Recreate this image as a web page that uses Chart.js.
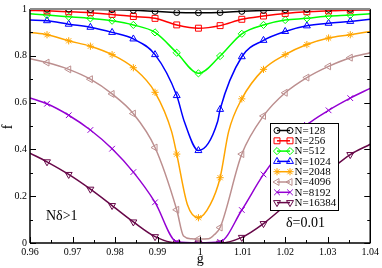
<!DOCTYPE html>
<html>
<head>
  <title>f vs g</title>
  <meta charset="utf-8" />
  <script src="https://cdn.jsdelivr.net/npm/chart.js"></script>
  <style>
    body {
      margin: 0;
      padding: 0;
      background: #fff;
    }
    #wrap {
      width: 382px;
      height: 268px;
      position: relative;
    }
  </style>
</head>
<body>
  <div id="wrap"><canvas id="chart"></canvas></div>

  <script>
    // g where the symbols sit
    const gMark = [0.9640, 0.9691, 0.9742, 0.9793, 0.9843, 0.9894, 0.9945, 0.9996,
                   1.0047, 1.0098, 1.0149, 1.0200, 1.0251, 1.0302, 1.0353];

    const f128   = [0.999, 0.999, 0.998, 0.997, 0.995, 0.990, 0.985, 0.984, 0.985, 0.990, 0.994, 0.997, 0.998, 0.999, 0.999];
    const f256   = [0.992, 0.988, 0.984, 0.977, 0.968, 0.960, 0.932, 0.918, 0.929, 0.956, 0.970, 0.981, 0.988, 0.992, 0.995];
    const f512   = [0.974, 0.967, 0.960, 0.950, 0.932, 0.900, 0.813, 0.725, 0.799, 0.894, 0.932, 0.953, 0.960, 0.970, 0.974];
    const f1024  = [0.950, 0.935, 0.922, 0.900, 0.872, 0.805, 0.630, 0.395, 0.571, 0.796, 0.866, 0.904, 0.928, 0.939, 0.947];
    const f2048  = [0.890, 0.864, 0.841, 0.805, 0.749, 0.644, 0.380, 0.108, 0.279, 0.616, 0.742, 0.805, 0.848, 0.876, 0.890];
    const f4096  = [0.771, 0.742, 0.700, 0.637, 0.553, 0.408, 0.142, 0.017, 0.066, 0.380, 0.543, 0.642, 0.707, 0.755, 0.792];
    const f8192  = [0.595, 0.546, 0.483, 0.403, 0.303, 0.174, 0.005, 0.000, 0.005, 0.141, 0.293, 0.413, 0.505, 0.567, 0.619];
    const f16384 = [0.347, 0.293, 0.230, 0.160, 0.090, 0.027, 0.000, 0.000, 0.000, 0.024, 0.083, 0.160, 0.236, 0.307, 0.378];

    // curve values at the two plot edges (g = 0.96 and 1.04)
    const gEnds = [0.96, 1.04];
    const end128   = [0.999, 0.999];
    const end256   = [0.994, 0.996];
    const end512   = [0.980, 0.980];
    const end1024  = [0.953, 0.956];
    const end2048  = [0.900, 0.904];
    const end4096  = [0.787, 0.813];
    const end8192  = [0.620, 0.661];
    const end16384 = [0.384, 0.422];

    // a few more curve points read near the dip (line only, no symbol)
    const gx1024 = [0.9963, 1.0041];
    const fx1024 = [0.518, 0.518];
    const gx2048 = [0.9933, 0.9970, 1.0024, 1.0067];
    const fx2048 = [0.476, 0.165, 0.165, 0.476];
    const gx4096 = [0.9961, 0.9980, 1.0020, 1.0033];
    const fx4096 = [0.030, 0.018, 0.018, 0.035];

    const xTickVals = [0.96, 0.97, 0.98, 0.99, 1.00, 1.01, 1.02, 1.03, 1.04];
    const xTickLabels = ['0.96', '0.97', '0.98', '0.99', '1', '1.01', '1.02', '1.03', '1.04'];
    const yTickVals = [0, 0.2, 0.4, 0.6, 0.8, 1];
    const yTickLabels = ['0', '0.2', '0.4', '0.6', '0.8', '1'];

    const serif = '"Liberation Serif", "DejaVu Serif", serif';

    const series = [
      { label: 'N=128',   color: '#000000', style: 'circle',   rot: 0,   r: 3,   f: f128,   ends: end128,   gx: [],     fx: [] },
      { label: 'N=256',   color: '#ff0000', style: 'rect',     rot: 0,   r: 4.2, f: f256,   ends: end256,   gx: [],     fx: [] },
      { label: 'N=512',   color: '#00ff00', style: 'rectRot',  rot: 0,   r: 3.6, f: f512,   ends: end512,   gx: [],     fx: [] },
      { label: 'N=1024',  color: '#0000ff', style: 'triangle', rot: 0,   r: 4,   f: f1024,  ends: end1024,  gx: gx1024, fx: fx1024 },
      { label: 'N=2048',  color: '#ffa500', style: 'star',     rot: 0,   r: 3.6, f: f2048,  ends: end2048,  gx: gx2048, fx: fx2048 },
      { label: 'N=4096',  color: '#bc8f8f', style: 'triangle', rot: -90, r: 4,   f: f4096,  ends: end4096,  gx: gx4096, fx: fx4096 },
      { label: 'N=8192',  color: '#9400d3', style: 'crossRot', rot: 0,   r: 4,   f: f8192,  ends: end8192,  gx: [],     fx: [] },
      { label: 'N=16384', color: '#670748', style: 'triangle', rot: 180, r: 4,   f: f16384, ends: end16384, gx: [],     fx: [] }
    ];

    const datasets = [];
    series.forEach(s => {
      let pts = gMark.map((g, i) => ({ x: g, y: s.f[i] }));
      pts = pts.concat(gEnds.map((g, i) => ({ x: g, y: s.ends[i] })));
      pts = pts.concat(s.gx.map((g, i) => ({ x: g, y: s.fx[i] })));
      pts.sort((a, b) => a.x - b.x);
      datasets.push({
        data: pts,
        borderColor: s.color,
        borderWidth: 1.5,
        pointRadius: 0,
        cubicInterpolationMode: 'monotone',
        fill: false
      });
      datasets.push({
        data: gMark.map((g, i) => ({ x: g, y: s.f[i] })),
        showLine: false,
        pointStyle: s.style,
        rotation: s.rot,
        pointRadius: s.r,
        pointBorderColor: s.color,
        pointBackgroundColor: 'rgba(0,0,0,0)',
        pointBorderWidth: 1
      });
    });

    function seg(ctx, x1, y1, x2, y2) {
      ctx.beginPath();
      ctx.moveTo(x1, y1);
      ctx.lineTo(x2, y2);
      ctx.stroke();
    }

    const decor = {
      id: 'decor',
      afterDatasetsDraw(chart) {
        const ctx = chart.ctx;
        const a = chart.chartArea;
        const x = chart.scales.x, y = chart.scales.y;
        ctx.save();

        // inward ticks
        ctx.strokeStyle = '#000';
        ctx.lineWidth = 1;
        for (let k = 0; k <= 16; k++) {
          const px = Math.round(x.getPixelForValue(0.96 + k * 0.005)) + 0.5;
          const len = k % 2 ? 3 : 6;
          seg(ctx, px, a.bottom, px, a.bottom - len);
        }
        for (let k = 0; k <= 10; k++) {
          const py = Math.round(y.getPixelForValue(k * 0.1)) + 0.5;
          const len = k % 2 ? 3 : 6;
          seg(ctx, a.left, py, a.left + len, py);
          seg(ctx, a.right, py, a.right - len, py);
        }

        // frame
        ctx.lineWidth = 1.5;
        ctx.strokeStyle = '#000';
        seg(ctx, a.left, a.top, a.left, a.bottom);
        seg(ctx, a.left, a.bottom, a.right, a.bottom);
        seg(ctx, a.right, a.top, a.right, a.bottom);
        ctx.strokeStyle = '#8c8c8c';
        ctx.lineWidth = 2;
        seg(ctx, a.left, a.top, a.right, a.top);

        // axis titles and notes
        ctx.fillStyle = '#000';
        ctx.font = '14px ' + serif;
        ctx.textAlign = 'center';
        ctx.textBaseline = 'alphabetic';
        ctx.fillText('g', (a.left + a.right) / 2, 263);
        ctx.save();
        ctx.translate(8, 127);
        ctx.rotate(-Math.PI / 2);
        ctx.textBaseline = 'middle';
        ctx.fillText('f', 0, 0);
        ctx.restore();
        ctx.textAlign = 'left';
        ctx.textBaseline = 'middle';
        ctx.fillText('N\u03b4>1', 46, 216);
        ctx.fillText('\u03b4=0.01', 286, 223);

        // legend
        const lx = 270.5, ly = 123.5, lw = 68, lh = 87;
        ctx.fillStyle = '#fff';
        ctx.fillRect(lx, ly, lw, lh);
        ctx.strokeStyle = '#000';
        ctx.lineWidth = 1;
        ctx.strokeRect(lx, ly, lw, lh);
        ctx.font = '11px ' + serif;
        series.forEach((s, i) => {
          const yy = 130.5 + i * 10.3;
          ctx.strokeStyle = s.color;
          ctx.lineWidth = 1.5;
          seg(ctx, 277, yy, 290, yy);
          ctx.lineWidth = 1;
          ctx.fillStyle = 'rgba(0,0,0,0)';
          const opt = { pointStyle: s.style, rotation: s.rot, radius: s.r, borderWidth: 1 };
          Chart.helpers.drawPoint(ctx, opt, 277, yy);
          Chart.helpers.drawPoint(ctx, opt, 290, yy);
          ctx.fillStyle = '#000';
          ctx.fillText(s.label, 294.5, yy + 0.5);
        });

        ctx.restore();
      }
    };

    const ctx = document.getElementById('chart').getContext('2d');

    new Chart(ctx, {
      type: 'line',
      data: { datasets: datasets },
      options: {
        animation: false,
        responsive: true,
        maintainAspectRatio: false,
        layout: { padding: { top: 5, right: 9, left: 0, bottom: 0 } },
        plugins: {
          legend: { display: false },
          tooltip: { enabled: false }
        },
        scales: {
          x: {
            type: 'linear',
            min: 0.96,
            max: 1.04,
            grid: { display: false, drawTicks: false },
            border: { display: false },
            afterBuildTicks: s => { s.ticks = xTickVals.map(v => ({ value: v })); },
            afterFit: s => { s.height = 25; },
            ticks: {
              padding: 3,
              maxRotation: 0,
              autoSkip: false,
              color: '#000',
              font: { family: serif, size: 10 },
              callback: (v, i) => xTickLabels[i]
            }
          },
          y: {
            min: 0,
            max: 1,
            grid: { display: false, drawTicks: false },
            border: { display: false },
            afterBuildTicks: s => { s.ticks = yTickVals.map(v => ({ value: v })); },
            afterFit: s => { s.width = 30; },
            ticks: {
              padding: 3,
              color: '#000',
              font: { family: serif, size: 10 },
              callback: (v, i) => yTickLabels[i]
            }
          }
        }
      },
      plugins: [decor]
    });
  </script>
</body>
</html>
